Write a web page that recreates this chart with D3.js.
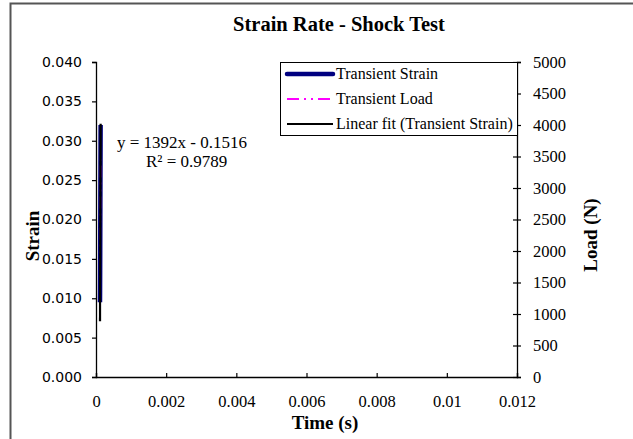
<!DOCTYPE html>
<html>
<head>
<meta charset="utf-8">
<script src="https://cdn.jsdelivr.net/npm/d3@7"></script>
<style>
  html, body { margin: 0; padding: 0; background: #fff; }
  svg { display: block; }
</style>
</head>
<body>
<svg id="chart" width="633" height="439"></svg>
<script>
// Shock test record: time (s), strain and load (N)
const timeS  = [0.000114, 0.000116, 0.000118, 0.000120, 0.000122, 0.000124, 0.000126, 0.000128, 0.000130, 0.000132];
const strain = [0.0095, 0.0110, 0.0135, 0.0160, 0.0190, 0.0218, 0.0245, 0.0270, 0.0295, 0.0320];
const loadN  = [1200, 1450, 1700, 1950, 2200, 2450, 2700, 2950, 3200, 3450];

// Linear trendline of strain against time
const fitSlope = [1392];
const fitIntercept = [-0.1516];
const fitR2 = [0.9789];

const xTicks = [0, 0.002, 0.004, 0.006, 0.008, 0.01, 0.012];
const yTicks = [0, 0.005, 0.010, 0.015, 0.020, 0.025, 0.030, 0.035, 0.040];
const y2Ticks = [0, 500, 1000, 1500, 2000, 2500, 3000, 3500, 4000, 4500, 5000];

const legendLabels = ["Transient Strain", "Transient Load", "Linear fit (Transient Strain)"];

const svg = d3.select("#chart");
const serif = "'Liberation Serif', 'Times New Roman', serif";
const sans = "'DejaVu Sans', Verdana, sans-serif";
const loadDash = "12,5,2,5,2,5";

// outer chart frame
svg.append("rect")
  .attr("x", 10.5).attr("y", 3.5).attr("width", 640).attr("height", 460)
  .attr("fill", "none").attr("stroke", "#555").attr("stroke-width", 2);

const L = 96, R = 517, T = 62, B = 377;

const x = d3.scaleLinear().domain([0, 0.012]).range([L, R]);
const y = d3.scaleLinear().domain([0, 0.040]).range([B, T]);
const y2 = d3.scaleLinear().domain([0, 5000]).range([B, T]);

// title
svg.append("text")
  .attr("x", 339).attr("y", 31)
  .attr("text-anchor", "middle")
  .attr("font-family", serif).attr("font-weight", "bold").attr("font-size", 20.5)
  .text("Strain Rate - Shock Test");

// left axis
const gy = svg.append("g").attr("transform", `translate(${L},0)`)
  .call(d3.axisLeft(y).tickValues(yTicks).tickFormat(d3.format(".3f")).tickSize(4).tickPadding(10));
gy.selectAll("text").attr("font-family", sans).attr("font-size", 14).attr("fill", "#000");

// right axis (ticks crossing the line)
const gy2 = svg.append("g").attr("transform", `translate(${R},0)`)
  .call(d3.axisRight(y2).tickValues(y2Ticks).tickFormat(d3.format("d")).tickSize(4).tickPadding(12));
gy2.selectAll(".tick line").attr("x1", -4);
gy2.selectAll("text").attr("font-family", serif).attr("font-size", 16.5).attr("fill", "#000");

// bottom axis (ticks inside)
const gx = svg.append("g").attr("transform", `translate(0,${B})`)
  .call(d3.axisBottom(x).tickValues(xTicks).tickFormat(d => d === 0 ? "0" : String(+d.toFixed(3))).tickSize(-4).tickPadding(18));
gx.selectAll("text").attr("font-family", serif).attr("font-size", 16.5).attr("fill", "#000");

[gy, gy2, gx].forEach(g => {
  g.select(".domain").attr("stroke", "#000").attr("stroke-width", 1.3);
  g.selectAll(".tick line").attr("stroke", "#000").attr("stroke-width", 1.2);
});

// axis titles
svg.append("text")
  .attr("x", 325).attr("y", 429)
  .attr("text-anchor", "middle")
  .attr("font-family", serif).attr("font-weight", "bold").attr("font-size", 19)
  .text("Time (s)");
svg.append("text")
  .attr("transform", "translate(39,236) rotate(-90)")
  .attr("text-anchor", "middle")
  .attr("font-family", serif).attr("font-weight", "bold").attr("font-size", 19)
  .text("Strain");
svg.append("text")
  .attr("transform", "translate(597,235) rotate(-90)")
  .attr("text-anchor", "middle")
  .attr("font-family", serif).attr("font-weight", "bold").attr("font-size", 19)
  .text("Load (N)");

// series
const strainLine = d3.line().x((d, i) => x(timeS[i])).y(d => y(d));
const loadLine = d3.line().x((d, i) => x(timeS[i])).y(d => y2(d));

svg.append("path")
  .attr("d", strainLine(strain))
  .attr("fill", "none").attr("stroke", "#000080").attr("stroke-width", 4.5);

svg.append("path")
  .attr("d", loadLine(loadN))
  .attr("fill", "none").attr("stroke", "#ff00ff").attr("stroke-width", 1.5)
  .attr("stroke-dasharray", loadDash);

const tMin = d3.min(timeS), tMax = d3.max(timeS);
const fitPts = [tMin, tMax].map(t => [x(t), y(fitSlope[0] * t + fitIntercept[0])]);
svg.append("path")
  .attr("d", d3.line()(fitPts))
  .attr("fill", "none").attr("stroke", "#000").attr("stroke-width", 2.2);

// trendline equation
const eq = svg.append("text")
  .attr("font-family", serif).attr("font-size", 17).attr("fill", "#000");
eq.append("tspan").attr("x", 117).attr("y", 148)
  .text(`y = ${fitSlope[0]}x - ${Math.abs(fitIntercept[0])}`);
eq.append("tspan").attr("x", 146).attr("y", 167)
  .text(`R² = ${fitR2[0]}`);

// legend
const lg = svg.append("g");
lg.append("rect")
  .attr("x", 280.5).attr("y", 62.5).attr("width", 237).attr("height", 73)
  .attr("fill", "#fff").attr("stroke", "#000").attr("stroke-width", 1);
const legendStyles = [
  { stroke: "#000080", width: 4.5, dash: null },
  { stroke: "#ff00ff", width: 2, dash: loadDash },
  { stroke: "#000", width: 2.2, dash: null }
];
legendLabels.forEach((lab, i) => {
  const cy = 74 + i * 25;
  lg.append("line")
    .attr("x1", 287).attr("x2", 333).attr("y1", cy).attr("y2", cy)
    .attr("stroke", legendStyles[i].stroke)
    .attr("stroke-width", legendStyles[i].width)
    .attr("stroke-dasharray", legendStyles[i].dash)
    .attr("stroke-linecap", i === 0 ? "round" : "butt");
  lg.append("text")
    .attr("x", 336).attr("y", cy + 5)
    .attr("font-family", serif).attr("font-size", 16)
    .text(lab);
});
</script>
</body>
</html>
